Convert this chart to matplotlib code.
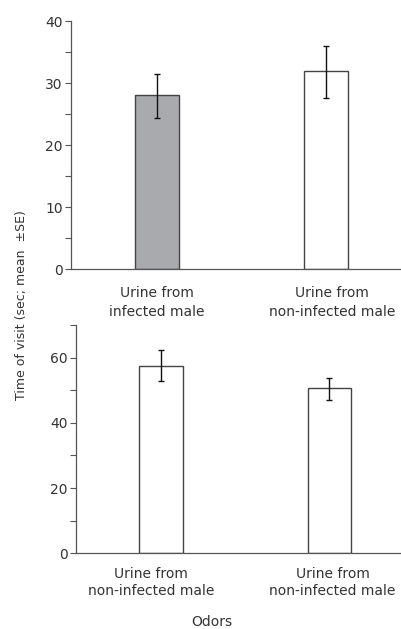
import matplotlib.pyplot as plt
from matplotlib.ticker import MultipleLocator
from matplotlib.transforms import blended_transform_factory

plt.rcParams['font.family'] = ['DejaVu Sans']

# dati pannello superiore
top_labels = ['Urine from\ninfected male', 'Urine from\nnon-infected male']
top_means = [28.0, 32.0]
top_low = [24.3, 27.6]
top_high = [31.4, 36.0]
top_colors = ['#a9aaae', 'white']

# dati pannello inferiore
bot_labels = ['Urine from\nnon-infected male', 'Urine from\nnon-infected male']
bot_means = [57.3, 50.6]
bot_low = [52.7, 47.0]
bot_high = [62.2, 53.8]
bot_colors = ['white', 'white']

txt_col = '#333333'
fs = 10
fig = plt.figure(figsize=(4.01, 6.29), dpi=100)


def panel(rect, means, low, high, colors, labels, ymax, major, label_off, label_pad, ls, xlim):
    ax = fig.add_axes(rect)
    x = [0, 1]
    err = [[m - l for m, l in zip(means, low)], [h - m for m, h in zip(means, high)]]
    ax.bar(x, means, width=0.257, color=colors, edgecolor='#444444', linewidth=1.0, zorder=2)
    ax.errorbar(x, means, yerr=err, fmt='none', ecolor='#111111', elinewidth=1.0,
                capsize=2.5, capthick=1.0, zorder=3)
    ax.set_xlim(*xlim)
    ax.set_ylim(0, ymax)
    ax.yaxis.set_major_locator(MultipleLocator(major))
    ax.yaxis.set_minor_locator(MultipleLocator(major / 2))
    ax.tick_params(axis='y', which='both', length=4, width=0.8, color='#555555',
                   labelsize=fs, labelcolor=txt_col, pad=2)
    ax.set_xticks([])
    for s in ['top', 'right']:
        ax.spines[s].set_visible(False)
    for s in ['left', 'bottom']:
        ax.spines[s].set_color('#555555')
        ax.spines[s].set_linewidth(0.9)
    trans = blended_transform_factory(ax.transData, ax.transAxes)
    for xi, lab, off in zip(x, labels, label_off):
        ax.text(xi + off, -label_pad, lab, transform=trans, ha='center', va='top',
                fontsize=fs, color=txt_col, linespacing=ls)
    return ax


panel([0.177, 0.5723, 0.823, 0.3943], top_means, top_low, top_high, top_colors,
      top_labels, 40, 10, [0.0, 0.035], 0.07, 1.45, (-0.509, 1.444))
panel([0.1895, 0.1203, 0.8105, 0.363], bot_means, bot_low, bot_high, bot_colors,
      bot_labels, 70, 20, [-0.06, 0.02], 0.058, 1.3, (-0.505, 1.426))

fig.text(22 / 401, 1 - 305 / 629, 'Time of visit (sec; mean  \u00b1SE)', rotation=90,
         ha='center', va='center', fontsize=9, color=txt_col)
fig.text(212 / 401, 1 - 622 / 629, 'Odors', ha='center', va='center',
         fontsize=fs, color=txt_col)

fig.savefig('out.png', dpi=100)
